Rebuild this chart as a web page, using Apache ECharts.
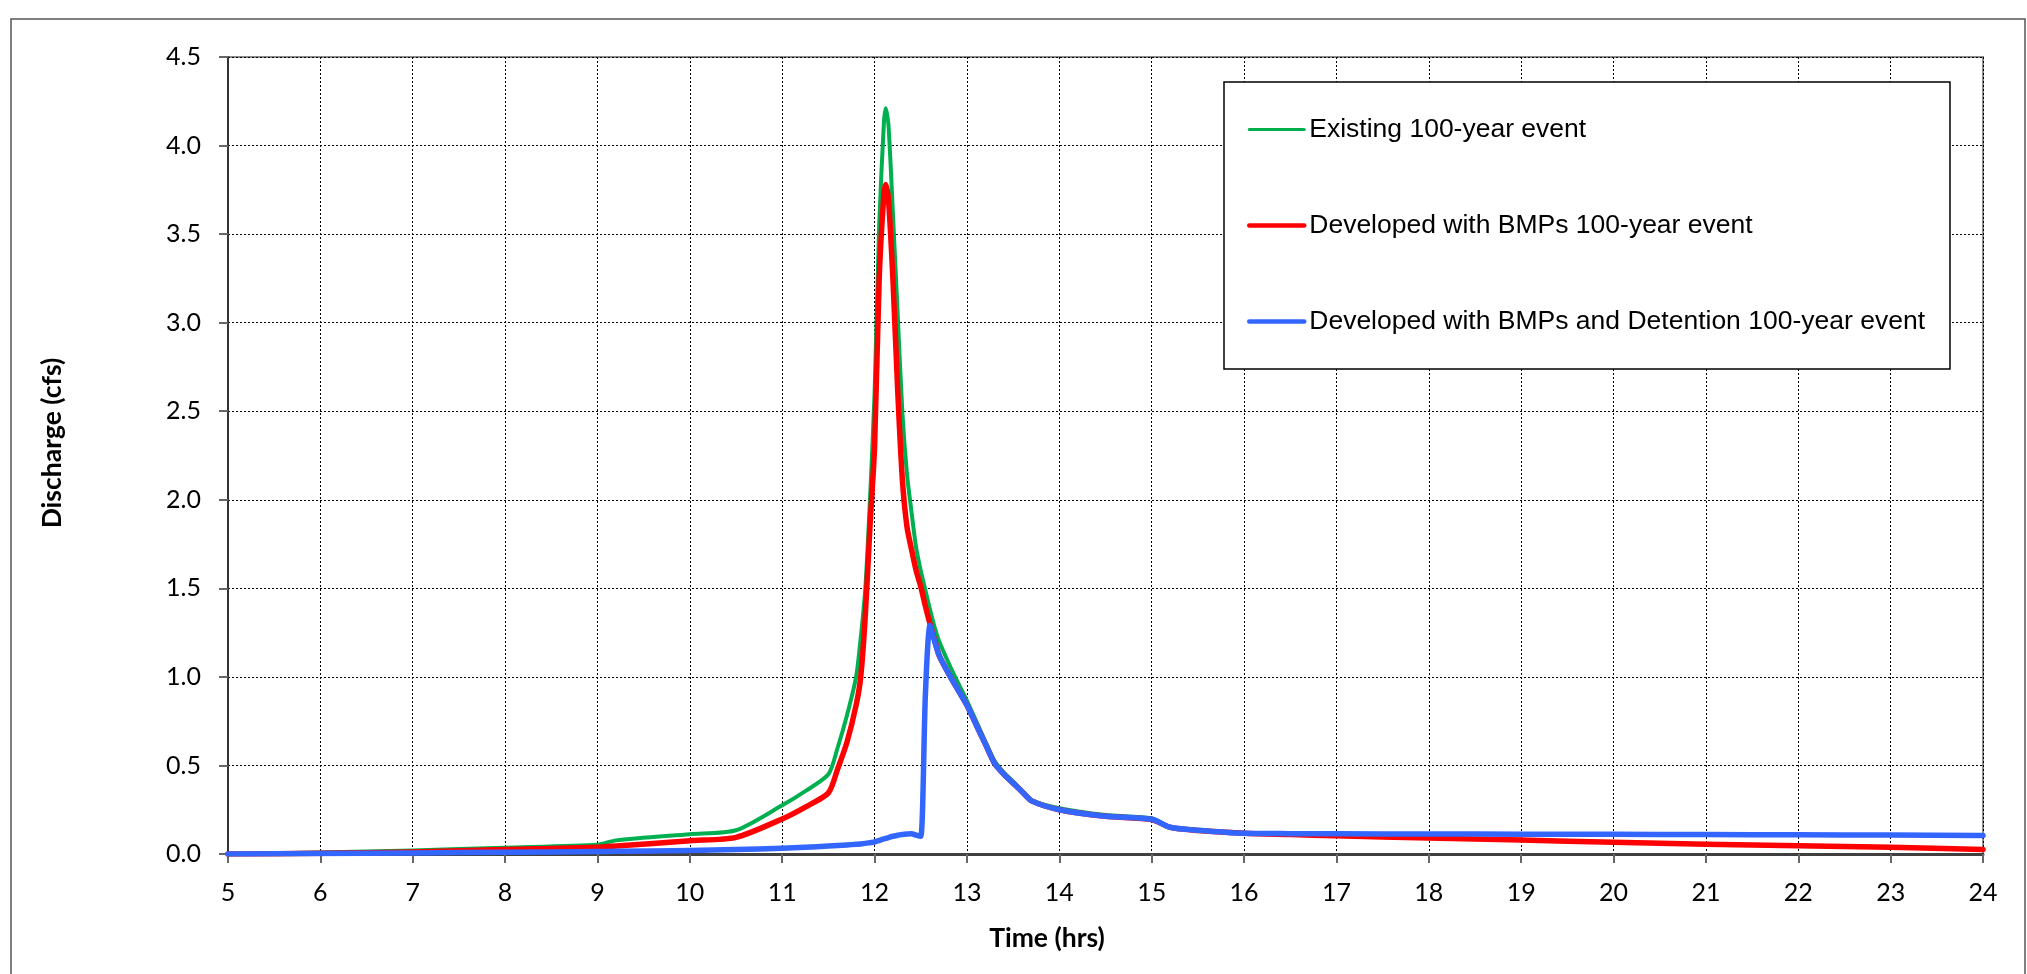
<!DOCTYPE html>
<html>
<head>
<meta charset="utf-8">
<title>Discharge hydrograph</title>
<script src="https://cdn.jsdelivr.net/npm/echarts@6/dist/echarts.min.js"></script>
<style>
  html, body { margin: 0; padding: 0; background: #fff; }
  #chart { width: 2027px; height: 974px; }
</style>
</head>
<body>
<div id="chart"></div>
<script>
// time in hours
const hours = [5, 6, 7, 8, 9, 9.2, 10, 10.5, 11, 11.25, 11.5, 11.6, 11.7, 11.8, 11.85, 11.9, 11.95, 12.0, 12.05, 12.1,
  12.12, 12.15, 12.2, 12.25, 12.3, 12.35, 12.4, 12.45, 12.5, 12.55, 12.6, 12.65, 12.7, 12.8, 12.9, 13.0, 13.1, 13.2, 13.3, 13.4,
  13.5, 13.6, 13.7, 14.0, 14.5, 15.0, 15.2, 15.5, 16, 16.5, 17, 18, 19, 20, 21, 22, 23, 24]

// discharge in cfs
const existing = [0, 0.008, 0.02, 0.036, 0.052, 0.077, 0.112, 0.134, 0.275, 0.355, 0.45, 0.6, 0.78, 1.0, 1.22, 1.5, 2.0, 2.6, 3.55, 4.12,
  4.21, 4.12, 3.6, 3.05, 2.5, 2.15, 1.93, 1.73, 1.6, 1.49, 1.38, 1.28, 1.2, 1.08, 0.97, 0.865, 0.75, 0.635, 0.525, 0.46,
  0.41, 0.355, 0.305, 0.258, 0.22, 0.202, 0.154, 0.136, 0.118, 0.11, 0.103, 0.09, 0.079, 0.066, 0.055, 0.047, 0.038, 0.026]

const developed = [0, 0.004, 0.012, 0.025, 0.038, 0.045, 0.075, 0.094, 0.198, 0.265, 0.345, 0.48, 0.63, 0.84, 1.0, 1.35, 1.85, 2.3, 3.25, 3.72,
  3.78, 3.7, 3.23, 2.62, 2.12, 1.85, 1.72, 1.6, 1.51, 1.4, 1.3, 1.21, 1.12, 1.02, 0.93, 0.84, 0.73, 0.62, 0.51, 0.45,
  0.4, 0.35, 0.3, 0.25, 0.213, 0.195, 0.15, 0.133, 0.117, 0.11, 0.103, 0.09, 0.079, 0.066, 0.055, 0.047, 0.038, 0.026]

const detention = [0, 0.003, 0.006, 0.01, 0.014, 0.015, 0.02, 0.025, 0.033, 0.038, 0.045, 0.048, 0.051, 0.055, 0.057, 0.06, 0.064, 0.068, 0.076, 0.085,
  0.088, 0.093, 0.1, 0.106, 0.11, 0.113, 0.115, 0.106, 0.1, 0.9, 1.29, 1.2, 1.12, 1.02, 0.93, 0.84, 0.73, 0.62, 0.51, 0.45,
  0.4, 0.35, 0.3, 0.25, 0.213, 0.196, 0.151, 0.134, 0.117, 0.115, 0.114, 0.113, 0.112, 0.111, 0.11, 0.108, 0.107, 0.105]

const seriesNames = [
  'Existing 100-year event',
  'Developed with BMPs 100-year event',
  'Developed with BMPs and Detention 100-year event'
]
const seriesColors = ['#00b050', '#ff0000', '#3366ff']
const seriesWidths = [4, 5.5, 5.5]
const seriesValues = [existing, developed, detention]

const chart = echarts.init(document.getElementById('chart'))

const tickFont = { fontFamily: 'Lato', fontSize: 25, color: '#000' }
const titleFont = { fontFamily: 'Lato', fontWeight: 'bold', fontSize: 26.5, color: '#000' }

const option = {
  animation: false,
  backgroundColor: '#fff',
  grid: {
    left: 228,
    right: 44,
    top: 57,
    bottom: 120,
    show: true,
    borderColor: '#8c8c8c',
    borderWidth: 2
  },
  graphic: [{
    type: 'rect',
    shape: { x: 11, y: 19, width: 2014, height: 975 },
    style: { fill: 'none', stroke: '#555', lineWidth: 1.5 },
    silent: true
  }],
  legend: {
    orient: 'vertical',
    left: 1224,
    top: 82,
    padding: [34, 25, 34, 23],
    itemWidth: 55,
    itemHeight: 26,
    itemGap: 69,
    backgroundColor: '#fff',
    borderColor: '#000',
    borderWidth: 1.5,
    itemStyle: { opacity: 0 },
    textStyle: { fontFamily: 'Liberation Sans', fontSize: 26.5, color: '#000' },
    data: seriesNames.map((n, i) => ({ name: n, lineStyle: { width: i === 0 ? 3 : 4.5 } }))
  },
  xAxis: {
    type: 'value',
    min: 5,
    max: 24,
    interval: 1,
    name: 'Time (hrs)',
    nameLocation: 'middle',
    nameGap: 71,
    nameTextStyle: Object.assign({ padding: [0, 117, 0, 0] }, titleFont),
    axisLine: { lineStyle: { color: '#404040', width: 3 } },
    axisTick: { show: true, length: 9, lineStyle: { color: '#666', width: 2 } },
    axisLabel: Object.assign({ margin: 26 }, tickFont),
    splitLine: { show: true, lineStyle: { color: '#000', type: [2, 2], width: 1 } }
  },
  yAxis: {
    type: 'value',
    min: 0,
    max: 4.5,
    interval: 0.5,
    name: 'Discharge (cfs)',
    nameLocation: 'middle',
    nameGap: 162,
    nameTextStyle: Object.assign({ padding: [0, 0, 0, 25] }, titleFont),
    axisLine: { show: true, lineStyle: { color: '#333', width: 2 } },
    axisTick: { show: true, length: 9, lineStyle: { color: '#666', width: 2 } },
    axisLabel: Object.assign({ margin: 27, formatter: v => v.toFixed(1) }, tickFont),
    splitLine: { show: true, lineStyle: { color: '#000', type: [2, 2], width: 1 } }
  },
  series: seriesNames.map((name, i) => ({
    name: name,
    type: 'line',
    symbol: 'none',
    smooth: 0.25,
    color: seriesColors[i],
    lineStyle: { color: seriesColors[i], width: seriesWidths[i], cap: 'round', join: 'round' },
    data: hours.map((h, k) => [h, seriesValues[i][k]]),
    z: 2 + i
  }))
}

chart.setOption(option)
</script>
</body>
</html>
